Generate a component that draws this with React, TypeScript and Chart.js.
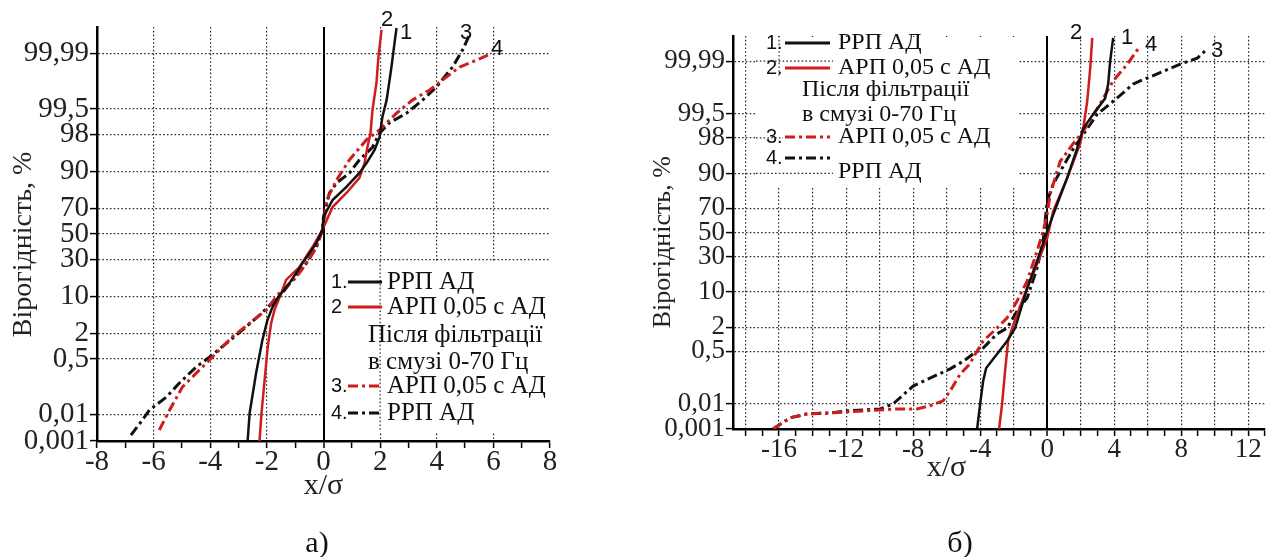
import React, { useEffect, useRef } from 'react';
import { Chart, registerables } from 'chart.js';

Chart.register(...registerables);

// ---------- data (x/σ, probability %) ----------
// panel а)
const xA1 = [-2.68, -2.61, -2.38, -2.16, -1.98, -1.8, -1.63, -1.2, -0.74, -0.25, -0.04, 0.0, 0.32, 0.81, 1.27, 1.52, 1.8, 1.98, 2.08, 2.23, 2.4, 2.51, 2.58];
const pA1 = [0.001, 0.011, 0.21, 1.43, 3.8, 6.6, 9.3, 15.6, 27.4, 42.6, 53.3, 63.7, 75.8, 83.4, 89.6, 92.8, 95.8, 97.7, 99.2, 99.71, 99.971, 99.996, 99.9989];

const xA2 = [-2.26, -2.19, -2.08, -1.97, -1.85, -1.73, -1.49, -1.32, -0.85, -0.39, -0.04, 0.32, 0.81, 1.27, 1.45, 1.55, 1.66, 1.73, 1.87, 1.94, 2.05];
const pA2 = [0.001, 0.011, 0.13, 0.99, 3.3, 5.9, 11.2, 17.2, 24.8, 39.4, 53.3, 71.1, 80.1, 87.6, 92.8, 96.3, 98.1, 99.47, 99.907, 99.987, 99.9987];

const xA3 = [-5.8, -5.44, -4.98, -4.38, -4.03, -3.22, -2.61, -2.01, -1.63, -1.31, -0.95, -0.6, -0.25, -0.04, 0.03, 0.11, 0.46, 0.92, 1.52, 1.98, 2.58, 3.14, 3.75, 4.35, 4.81, 5.41, 5.94];
const pA3 = [0.0027, 0.0142, 0.082, 0.255, 0.47, 1.7, 3.3, 5.9, 10.4, 13.8, 18.8, 27.5, 39.4, 53.3, 61.4, 75.8, 86.7, 93.7, 97.4, 98.4, 99.36, 99.71, 99.85, 99.94, 99.971, 99.983, 99.99];

const xA4 = [-6.8, -6.4, -6.15, -5.55, -5.09, -4.49, -4.03, -3.43, -2.86, -2.26, -1.8, -1.45, -1.1, -0.6, -0.25, -0.04, 0.0, 0.21, 0.46, 0.92, 1.27, 1.73, 1.98, 2.33, 2.93, 3.5, 3.99, 4.56, 4.91, 5.16];
const pA4 = [0.0017, 0.0063, 0.0142, 0.039, 0.107, 0.31, 0.56, 1.22, 2.4, 4.75, 7.8, 11.2, 17.2, 27.5, 39.4, 53.3, 63.7, 80.1, 85.3, 89.6, 93.7, 96.3, 98.1, 98.9, 99.36, 99.71, 99.878, 99.971, 99.9925, 99.998];

// panel б)
const xB1 = [-4.18, -4.0, -3.82, -3.64, -2.99, -2.39, -1.91, -1.19, -0.6, 0, 0.6, 1.19, 1.79, 2.15, 2.75, 3.46, 3.64, 3.76, 3.94];
const pB1 = [0.001, 0.01, 0.064, 0.164, 0.42, 0.93, 1.9, 11.5, 26.8, 51.2, 73.2, 88.1, 96.6, 98.8, 99.49, 99.82, 99.936, 99.99, 99.9988];

const xB2 = [-2.87, -2.69, -2.51, -2.33, -2.09, -1.43, -0.6, 0, 0.36, 1.19, 1.97, 2.15, 2.39, 2.57, 2.69];
const pB2 = [0.001, 0.01, 0.135, 0.93, 1.9, 7.8, 24.7, 45.2, 67.9, 88.1, 97.3, 98.8, 99.78, 99.982, 99.9988];

const xB3 = [-16.36, -15.34, -14.33, -12.96, -10.99, -8.96, -7.76, -6.99, -6.21, -5.79, -5.19, -4.6, -4.42, -3.82, -2.99, -2.39, -1.79, -1.19, -0.6, -0.24, 0, 0.18, 0.78, 1.55, 2.15, 3.16, 3.94, 4.78, 5.55];
const pB3 = [0.001, 0.0029, 0.0041, 0.0045, 0.0054, 0.0064, 0.0064, 0.0085, 0.0129, 0.029, 0.107, 0.22, 0.33, 0.93, 1.9, 3.2, 6.9, 14.7, 34.4, 51.3, 65.6, 79.8, 93.9, 97.3, 98.6, 99.74, 99.95, 99.987, 99.9974];

const xB4 = [-16.36, -15.34, -14.33, -12.96, -11.94, -9.97, -9.19, -8.0, -6.99, -5.79, -5.01, -4.42, -3.82, -2.99, -2.39, -1.79, -1.19, -0.6, -0.24, 0, 0.36, 0.9, 1.49, 2.09, 2.99, 3.94, 5.13, 5.55, 6.57, 7.94, 8.96, 9.55];
const pB4 = [0.001, 0.0029, 0.0041, 0.0045, 0.0054, 0.0064, 0.01, 0.043, 0.079, 0.154, 0.26, 0.42, 0.61, 1.39, 1.9, 4.45, 7.8, 22.1, 42.7, 75.3, 85.3, 91.9, 96.2, 98.2, 99.49, 99.78, 99.936, 99.95, 99.971, 99.987, 99.9923, 99.9966];

// probability-paper tick labels
const yTickProbs = [0.001, 0.01, 0.5, 2, 10, 30, 50, 70, 90, 98, 99.5, 99.99];
const yTickLabels = ['0,001', '0,01', '0,5', '2', '10', '30', '50', '70', '90', '98', '99,5', '99,99'];

const yTitle = 'Вірогідність, %';
const xTitle = 'x/σ';
const legendNames = ['РРП АД', 'АРП 0,05 с АД', 'АРП 0,05 с АД', 'РРП АД'];
const legendNote = ['Після фільтрації', 'в смузі 0-70 Гц'];

// ---------- helpers ----------
function probit(p: number): number {
  const a = [-3.969683028665376e1, 2.209460984245205e2, -2.759285104469687e2, 1.38357751867269e2, -3.066479806614716e1, 2.506628277459239];
  const b = [-5.447609879822406e1, 1.615858368580409e2, -1.556989798598866e2, 6.680131188771972e1, -1.328068155288572e1];
  const c = [-7.784894002430293e-3, -3.223964580411365e-1, -2.400758277161838, -2.549732539343734, 4.374664141464968, 2.938163982698783];
  const d = [7.784695709041462e-3, 3.224671290700398e-1, 2.445134137142996, 3.754408661907416];
  const pl = 0.02425;
  if (p < pl) {
    const q = Math.sqrt(-2 * Math.log(p));
    return (((((c[0] * q + c[1]) * q + c[2]) * q + c[3]) * q + c[4]) * q + c[5]) / ((((d[0] * q + d[1]) * q + d[2]) * q + d[3]) * q + 1);
  }
  if (p <= 1 - pl) {
    const q = p - 0.5;
    const r = q * q;
    return ((((((a[0] * r + a[1]) * r + a[2]) * r + a[3]) * r + a[4]) * r + a[5]) * q) / (((((b[0] * r + b[1]) * r + b[2]) * r + b[3]) * r + b[4]) * r + 1);
  }
  const q = Math.sqrt(-2 * Math.log(1 - p));
  return -(((((c[0] * q + c[1]) * q + c[2]) * q + c[3]) * q + c[4]) * q + c[5]) / ((((d[0] * q + d[1]) * q + d[2]) * q + d[3]) * q + 1);
}

const Y_MIN = probit(0.00001);
const Y_MAX = -Y_MIN;

const RED = '#d01c1c';
const BLACK = '#111111';
const GRID = '#2a2a2a';
const GRID_DASH = [1.6, 2.2];
const CLEAR = 'rgba(0,0,0,0)';
const DASHDOT = [10, 4, 3, 4];
const SERIF = "'Liberation Serif', 'Times New Roman', serif";
const SANS = "'Liberation Sans', Arial, sans-serif";
const NB = '\u00A0';
const H = 557;

const toPts = (xs: number[], ps: number[]) => xs.map((x, i) => ({ x, y: probit(ps[i] / 100) }));
const range = (a: number, b: number) => {
  const r: number[] = [];
  for (let v = a; v <= b; v++) r.push(v);
  return r;
};

type Seg = { dir: 'v' | 'h'; value: number; a: number; b: number };
type Panel = {
  width: number;
  area: { left: number; top: number; right: number; bottom: number };
  xMin: number;
  xMax: number;
  xTicks: number[];
  labelEvery: number;
  tickSize: number;
  yTitleSize: number;
  yTitlePad: number;
  xTitleText: string;
  xTitleSize: number;
  xTitlePad: number;
  series: { xs: number[]; ps: number[]; color: string; dash: number[]; width: number; name: string }[];
  white: { x: number; y: number; w: number; h: number };
  redraw: Seg[];
  legend: {
    size: number;
    numX: number;
    l1: number;
    l2: number;
    textX: number;
    rows: { num: string; y: number; ty: number; color: string; dash: number[]; text: string }[];
    notes: { text: string; x: number; y: number }[];
  };
  labels: { t: string; x: number; y: number }[];
};

const panelA: Panel = {
  width: 600,
  area: { left: 97, top: 27, right: 550, bottom: 441 },
  xMin: -8,
  xMax: 8,
  xTicks: range(-8, 8),
  labelEvery: 2,
  tickSize: 29,
  yTitleSize: 28,
  yTitlePad: 10,
  xTitleText: xTitle,
  xTitleSize: 30,
  xTitlePad: 56,
  series: [
    { xs: xA1, ps: pA1, color: BLACK, dash: [], width: 2.5, name: '1' },
    { xs: xA2, ps: pA2, color: RED, dash: [], width: 2.5, name: '2' },
    { xs: xA3, ps: pA3, color: RED, dash: DASHDOT, width: 3, name: '3' },
    { xs: xA4, ps: pA4, color: BLACK, dash: DASHDOT, width: 3, name: '4' },
  ],
  white: { x: 325.5, y: 261, w: 227, h: 171 },
  redraw: [{ dir: 'v', value: 2, a: 261, b: 432 }],
  legend: {
    size: 25,
    numX: 331,
    l1: 348,
    l2: 382,
    textX: 387,
    rows: [
      { num: '1.', y: 282, ty: 282, color: BLACK, dash: [], text: legendNames[0] },
      { num: '2', y: 307, ty: 307, color: RED, dash: [], text: legendNames[1] },
      { num: '3.', y: 386, ty: 386, color: RED, dash: DASHDOT, text: legendNames[2] },
      { num: '4.', y: 413, ty: 413, color: BLACK, dash: DASHDOT, text: legendNames[3] },
    ],
    notes: [
      { text: legendNote[0], x: 368, y: 335 },
      { text: legendNote[1], x: 368, y: 362 },
    ],
  },
  labels: [
    { t: '2', x: 387, y: 20 },
    { t: '1', x: 406, y: 33 },
    { t: '3', x: 466, y: 33 },
    { t: '4', x: 497, y: 49 },
  ],
};

const OX = 600;
const panelB: Panel = {
  width: 675,
  area: { left: 733 - OX, top: 36, right: 1265 - OX, bottom: 429 },
  xMin: -18.75,
  xMax: 13,
  xTicks: range(-18, 13),
  labelEvery: 4,
  tickSize: 27,
  yTitleSize: 26,
  yTitlePad: 50,
  xTitleText: xTitle + NB.repeat(14),
  xTitleSize: 30,
  xTitlePad: 74,
  series: [
    { xs: xB1, ps: pB1, color: BLACK, dash: [], width: 2.5, name: '1' },
    { xs: xB2, ps: pB2, color: RED, dash: [], width: 2.5, name: '2' },
    { xs: xB3, ps: pB3, color: RED, dash: DASHDOT, width: 3, name: '3' },
    { xs: xB4, ps: pB4, color: BLACK, dash: DASHDOT, width: 3, name: '4' },
  ],
  white: { x: 756 - OX, y: 37, w: 263, h: 150 },
  redraw: [
    { dir: 'v', value: -16, a: 36, b: 77 },
    { dir: 'h', value: 99.99, a: 756 - OX, b: 833 - OX },
    { dir: 'h', value: 98, a: 756 - OX, b: 783 - OX },
    { dir: 'h', value: 90, a: 756 - OX, b: 833 - OX },
  ],
  legend: {
    size: 24,
    numX: 766 - OX,
    l1: 785 - OX,
    l2: 830 - OX,
    textX: 838 - OX,
    rows: [
      { num: '1.', y: 43, ty: 43, color: BLACK, dash: [], text: legendNames[0] },
      { num: '2.', y: 68, ty: 68, color: RED, dash: [], text: legendNames[1] },
      { num: '3.', y: 137, ty: 137, color: RED, dash: DASHDOT, text: legendNames[2] },
      { num: '4.', y: 158, ty: 172, color: BLACK, dash: DASHDOT, text: legendNames[3] },
    ],
    notes: [
      { text: legendNote[0], x: 802 - OX, y: 90 },
      { text: legendNote[1], x: 802 - OX, y: 115 },
    ],
  },
  labels: [
    { t: '2', x: 1076 - OX, y: 33 },
    { t: '1', x: 1127 - OX, y: 38 },
    { t: '4', x: 1151 - OX, y: 45 },
    { t: '3', x: 1217 - OX, y: 51 },
  ],
};

function buildConfig(p: Panel): any {
  const decor = {
    id: 'decor',
    beforeDatasetsDraw(chart: any) {
      const ctx = chart.ctx;
      const xs = chart.scales.x;
      const ys = chart.scales.y;
      ctx.save();
      ctx.fillStyle = '#ffffff';
      ctx.fillRect(p.white.x, p.white.y, p.white.w, p.white.h);
      ctx.strokeStyle = GRID;
      ctx.lineWidth = 1.2;
      ctx.setLineDash(GRID_DASH);
      for (const s of p.redraw) {
        ctx.beginPath();
        if (s.dir === 'v') {
          const px = xs.getPixelForValue(s.value);
          ctx.moveTo(px, s.a);
          ctx.lineTo(px, s.b);
        } else {
          const py = ys.getPixelForValue(probit(s.value / 100));
          ctx.moveTo(s.a, py);
          ctx.lineTo(s.b, py);
        }
        ctx.stroke();
      }
      ctx.restore();
    },
    afterDraw(chart: any) {
      const ctx = chart.ctx;
      const L = p.legend;
      ctx.save();
      ctx.textBaseline = 'middle';
      for (const r of L.rows) {
        ctx.font = `20px ${SANS}`;
        ctx.fillStyle = '#111';
        ctx.textAlign = 'left';
        ctx.fillText(r.num, L.numX, r.y);
        ctx.strokeStyle = r.color;
        ctx.lineWidth = 3;
        ctx.setLineDash(r.dash);
        ctx.beginPath();
        ctx.moveTo(L.l1, r.y);
        ctx.lineTo(L.l2, r.y);
        ctx.stroke();
        ctx.setLineDash([]);
        ctx.font = `${L.size}px ${SERIF}`;
        ctx.fillStyle = '#111';
        ctx.fillText(r.text, L.textX, r.ty);
      }
      ctx.font = `${L.size}px ${SERIF}`;
      ctx.fillStyle = '#111';
      for (const n of L.notes) ctx.fillText(n.text, n.x, n.y);
      ctx.font = `22px ${SANS}`;
      ctx.textAlign = 'center';
      for (const l of p.labels) ctx.fillText(l.t, l.x, l.y);
      ctx.restore();
    },
  };

  const xMin = p.xMin;
  const xMax = p.xMax;

  return {
    type: 'line',
    data: {
      datasets: p.series.map((s) => ({
        label: s.name,
        data: toPts(s.xs, s.ps),
        borderColor: s.color,
        backgroundColor: s.color,
        borderWidth: s.width,
        borderDash: s.dash,
        pointRadius: 0,
        tension: 0,
        fill: false,
      })),
    },
    options: {
      animation: false,
      responsive: false,
      maintainAspectRatio: false,
      events: [],
      layout: { padding: { left: 0, top: p.area.top, right: p.width - p.area.right, bottom: 0 } },
      plugins: { legend: { display: false }, tooltip: { enabled: false } },
      scales: {
        x: {
          type: 'linear',
          min: xMin,
          max: xMax,
          afterBuildTicks: (s: any) => {
            s.ticks = p.xTicks.map((v) => ({ value: v }));
          },
          afterFit: (s: any) => {
            s.height = H - p.area.bottom;
          },
          ticks: {
            autoSkip: false,
            maxRotation: 0,
            padding: 0,
            color: '#222',
            font: { family: SERIF, size: p.tickSize, lineHeight: 1 },
            callback: (v: number) => (v % p.labelEvery === 0 ? String(v) : ''),
          },
          grid: {
            color: (c: any) => {
              const v = c.tick ? c.tick.value : NaN;
              if (v === 0) return '#000';
              if (v % 2 === 0 && v > xMin && v < xMax) return GRID;
              return CLEAR;
            },
            lineWidth: (c: any) => (c.tick && c.tick.value === 0 ? 2 : 1.2),
            tickColor: '#000',
            tickLength: 7,
            tickWidth: 1.5,
          },
          border: {
            display: true,
            color: '#000',
            width: 2.5,
            dash: (c: any) => (c.tick && c.tick.value === 0 ? [] : GRID_DASH),
          },
          title: {
            display: true,
            text: p.xTitleText,
            color: '#222',
            font: { family: SERIF, size: p.xTitleSize, lineHeight: 1 },
            padding: { top: 0, bottom: p.xTitlePad },
          },
        },
        y: {
          type: 'linear',
          min: Y_MIN,
          max: Y_MAX,
          afterBuildTicks: (s: any) => {
            s.ticks = yTickProbs.map((q) => ({ value: probit(q / 100) }));
          },
          afterFit: (s: any) => {
            s.width = p.area.left;
          },
          ticks: {
            autoSkip: false,
            padding: 1,
            color: '#222',
            font: { family: SERIF, size: p.tickSize, lineHeight: 1 },
            callback: (_v: number, i: number) => yTickLabels[i],
          },
          grid: {
            color: (c: any) => (c.index === 0 ? CLEAR : GRID),
            lineWidth: 1.2,
            tickColor: '#000',
            tickLength: 7,
            tickWidth: 1.5,
          },
          border: { display: true, color: '#000', width: 2.5, dash: GRID_DASH },
          title: {
            display: true,
            text: yTitle + NB.repeat(3),
            color: '#222',
            font: { family: SERIF, size: p.yTitleSize, lineHeight: 1 },
            padding: { top: p.yTitlePad, bottom: 0 },
          },
        },
      },
    },
    plugins: [decor],
  };
}

function PanelChart({ panel, left }: { panel: Panel; left: number }) {
  const ref = useRef<HTMLCanvasElement | null>(null);
  useEffect(() => {
    if (!ref.current) return;
    const chart = new Chart(ref.current, buildConfig(panel));
    return () => chart.destroy();
  }, [panel]);
  return (
    <canvas
      ref={ref}
      width={panel.width}
      height={H}
      style={{ position: 'absolute', left, top: 0, width: panel.width, height: H }}
    />
  );
}

const captionStyle: React.CSSProperties = {
  position: 'absolute',
  top: 542,
  transform: 'translate(-50%, -50%)',
  fontFamily: SERIF,
  fontSize: 30,
  lineHeight: 1,
  color: '#111',
  whiteSpace: 'nowrap',
};

export default function App() {
  return (
    <div style={{ position: 'absolute', left: 0, top: 0, width: 1275, height: H, background: '#fff', overflow: 'hidden' }}>
      <PanelChart panel={panelA} left={0} />
      <PanelChart panel={panelB} left={OX} />
      <div style={{ ...captionStyle, left: 317 }}>а)</div>
      <div style={{ ...captionStyle, left: 960 }}>б)</div>
    </div>
  );
}
